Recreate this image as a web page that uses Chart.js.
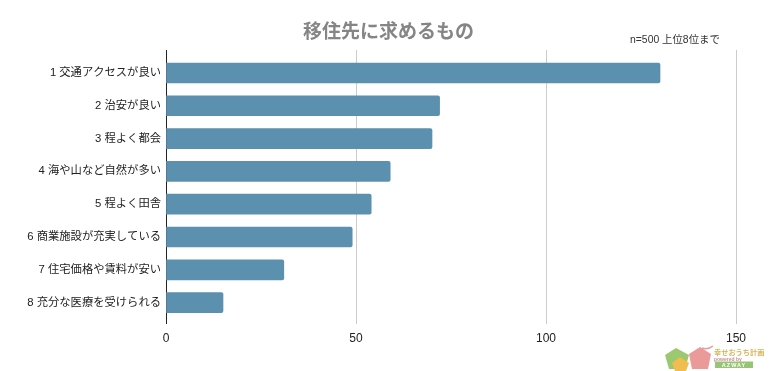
<!DOCTYPE html>
<html>
<head>
<meta charset="utf-8">
<style>
  html, body { margin: 0; padding: 0; background: #fff; }
  #wrap { position: relative; width: 777px; height: 371px; overflow: hidden; }
  #title { position: absolute; left: 0; width: 777px; top: 16px; text-align: center; font: 700 19px "Liberation Sans", "Noto Sans CJK JP", sans-serif; color: #858585; white-space: nowrap; }
  #note { position: absolute; left: 630px; top: 31px; font: 10.4px "Liberation Sans", "Noto Sans CJK JP", sans-serif; color: #333; white-space: nowrap; }
  #logo { position: absolute; left: 664px; top: 344px; }
</style>
</head>
<body>
<div id="wrap">
  <canvas id="myChart" width="777" height="371"></canvas>
  <div id="title">移住先に求めるもの</div>
  <div id="note">n=500 上位8位まで</div>
  <svg id="logo" width="104" height="27" viewBox="0 0 104 27">
    <path d="M1 11 L12 4 L25 11 L21 25 L5 25 Z" fill="#9cc870"/>
    <path d="M25 10 L36 3 L47 10 L44 25 L28 25 Z" fill="#ea9a98"/>
    <path d="M38 4 Q44 6 49 2" fill="none" stroke="#ea9a98" stroke-width="1.5"/>
    <path d="M8 19 L16 13 L25 19 L22 27 L11 27 Z" fill="#f0bd4e"/>
    <text x="50" y="11" font-family="Noto Sans CJK JP" font-size="7.2" font-weight="700" fill="#d9b65c">幸せおうち計画</text>
    <text x="50" y="16.5" font-family="Liberation Sans" font-size="5" font-weight="700" fill="#c98f9a">powered by</text>
    <rect x="51" y="17.5" width="38" height="6.5" fill="#98c476"/>
    <text x="70" y="23" font-family="Liberation Sans" font-size="5.5" font-weight="700" fill="#fff" text-anchor="middle" letter-spacing="1">AZWAY</text>
  </svg>
</div>
<script src="https://cdn.jsdelivr.net/npm/chart.js@4/dist/chart.umd.js"></script>
<script>
const categories = [
    '1 交通アクセスが良い',
    '2 治安が良い',
    '3 程よく都会',
    '4 海や山など自然が多い',
    '5 程よく田舎',
    '6 商業施設が充実している',
    '7 住宅価格や賃料が安い',
    '8 充分な医療を受けられる'
]
const ranks = [1, 2, 3, 4, 5, 6, 7, 8]
const values = [130, 72, 70, 59, 54, 49, 31, 15]
const xTicks = [0, 50, 100, 150]

const font = '"Liberation Sans", "Noto Sans CJK JP", sans-serif'

const config = {
    type: 'bar',
    data: {
        datasets: [{
            data: ranks.map((r, i) => ({ x: values[i], y: r })),
            backgroundColor: '#5b90ae',
            borderRadius: 2,
            borderSkipped: 'start',
            barThickness: 20
        }]
    },
    options: {
        indexAxis: 'y',
        responsive: false,
        animation: false,
        layout: {
            padding: { left: 0, right: 41, top: 50, bottom: 17 }
        },
        plugins: {
            legend: { display: false },
            tooltip: { enabled: false }
        },
        scales: {
            x: {
                type: 'linear',
                min: 0,
                max: 150,
                afterBuildTicks: (scale) => {
                    scale.ticks = xTicks.map(v => ({ value: v }))
                },
                grid: { color: '#cccccc', drawTicks: false },
                border: { display: false },
                ticks: {
                    color: '#222',
                    padding: 8,
                    maxRotation: 0,
                    font: { family: font, size: 12 }
                }
            },
            y: {
                type: 'linear',
                reverse: true,
                offset: false,
                min: 0.3,
                max: 8.64,
                grid: { display: false, drawTicks: false },
                border: { color: '#222', width: 1 },
                afterFit: (scale) => { scale.width = 166 },
                ticks: {
                    stepSize: 1,
                    includeBounds: false,
                    autoSkip: false,
                    color: '#222',
                    padding: 5,
                    font: { family: font, size: 11.3 },
                    callback: (v) => categories[v - 1]
                }
            }
        }
    }
}

const myChart = new Chart(document.getElementById('myChart'), config)
</script>
</body>
</html>
